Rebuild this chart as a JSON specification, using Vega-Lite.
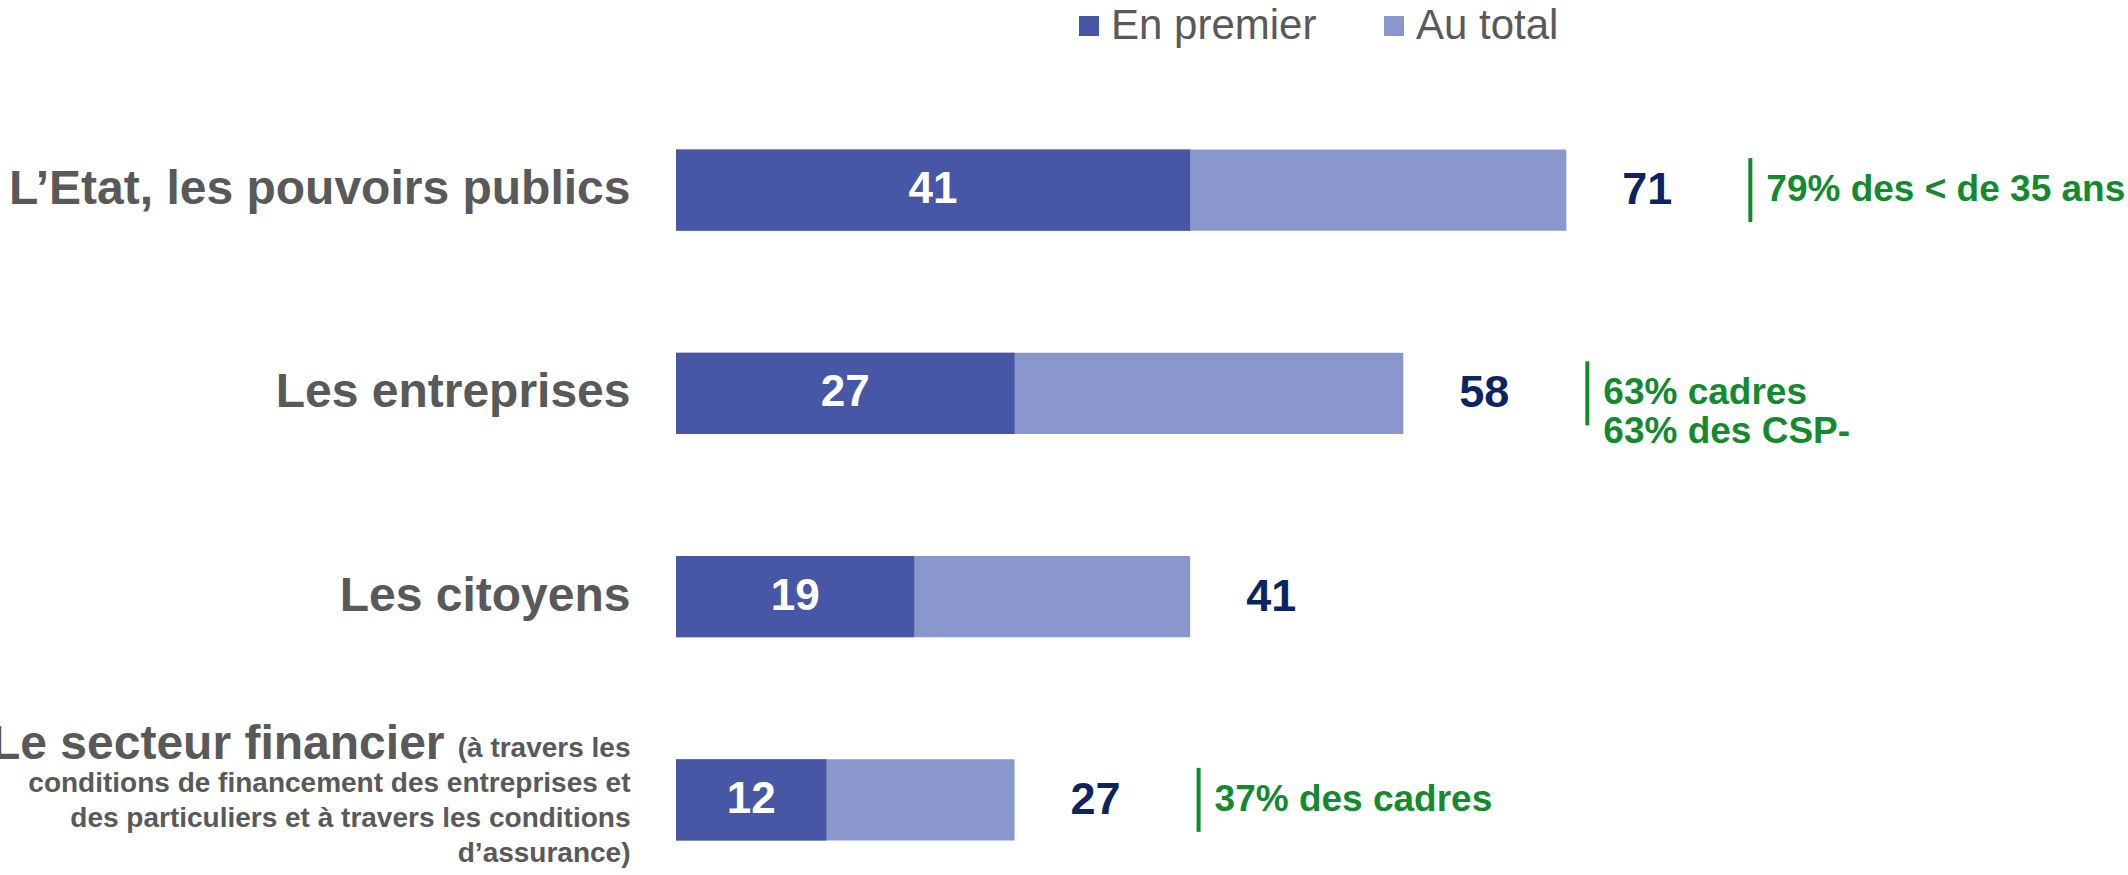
{
  "$schema": "https://vega.github.io/schema/vega-lite/v6.json",
  "autosize": "none",
  "width": 1254,
  "height": 752,
  "padding": {"left": 676, "top": 119, "right": 198, "bottom": 4},
  "config": {"view": {"stroke": null}, "font": "Liberation Sans"},
  "data": {"values": [
    {"cat": "L’Etat, les pouvoirs publics", "premier": 41, "total": 71, "note": "79% des < de 35 ans"},
    {"cat": "Les entreprises", "premier": 27, "total": 58, "note": "63% cadres\n63% des CSP-"},
    {"cat": "Les citoyens", "premier": 19, "total": 41, "note": ""},
    {"cat": "Le secteur financier", "premier": 12, "total": 27, "note": "37% des cadres"}
  ]},
  "encoding": {
    "y": {"field": "cat", "type": "nominal", "sort": null, "scale": {"paddingInner": 0.6, "paddingOuter": 0.15}, "axis": null}
  },
  "layer": [
    {
      "mark": {"type": "bar"},
      "encoding": {
        "y": {"field": "cat", "type": "nominal", "sort": null, "scale": {"paddingInner": 0.6, "paddingOuter": 0.15},
          "axis": {"orient": "left", "title": null, "domain": false, "ticks": false, "grid": false,
            "labelFont": "Liberation Sans", "labelFontWeight": "bold", "labelFontSize": 48, "labelColor": "#595959",
            "labelLimit": 1000, "labelPadding": 46,
            "labelExpr": "datum.value == 'Le secteur financier' ? '' : datum.value"}},
        "x": {"field": "total", "type": "quantitative", "scale": {"domain": [0, 100], "nice": false}, "axis": null},
        "color": {"datum": "Au total", "type": "nominal",
          "scale": {"domain": ["En premier", "Au total"], "range": ["#4856A6", "#8A97CD"]},
          "legend": {"orient": "none", "legendX": 392, "legendY": -114, "direction": "horizontal", "title": null,
            "symbolType": "square", "symbolSize": 400, "symbolStrokeWidth": 0, "labelFontSize": 42, "labelColor": "#595959",
            "labelFont": "Liberation Sans", "labelLimit": 1000, "columnPadding": 56, "labelOffset": 1}}
      }
    },
    {
      "mark": {"type": "bar"},
      "encoding": {
        "y": {"field": "cat", "type": "nominal", "sort": null, "scale": {"paddingInner": 0.6, "paddingOuter": 0.15},
          "axis": {"orient": "left", "title": null, "domain": false, "ticks": false, "grid": false,
            "labelFont": "Liberation Sans", "labelFontWeight": "bold", "labelFontSize": 48, "labelColor": "#595959",
            "labelLimit": 1000, "labelPadding": 232, "labelOffset": -55,
            "labelExpr": "datum.value == 'Le secteur financier' ? datum.value : ''"}},
        "x": {"field": "premier", "type": "quantitative"},
        "color": {"datum": "En premier", "type": "nominal"}
      }
    },
    {
      "mark": {"type": "text", "color": "white", "fontSize": 44, "fontWeight": "bold", "align": "center", "baseline": "middle"},
      "encoding": {
        "y": {"field": "cat", "type": "nominal", "sort": null, "scale": {"paddingInner": 0.6, "paddingOuter": 0.15},
          "axis": {"orient": "left", "title": null, "domain": false, "ticks": false, "grid": false,
            "labelFont": "Liberation Sans", "labelFontWeight": "bold", "labelFontSize": 28, "labelColor": "#595959",
            "labelLimit": 1000, "labelPadding": 46, "labelLineHeight": 35, "labelBaseline": "middle", "labelOffset": -51,
            "labelExpr": "datum.value == 'Le secteur financier' ? ['(à travers les', 'conditions de financement des entreprises et', 'des particuliers et à travers les conditions', 'd’assurance)'] : ''"}},
        "x": {"field": "premier", "type": "quantitative", "stack": "zero", "bandPosition": 0.5},
        "text": {"field": "premier", "type": "quantitative"}
      }
    },
    {
      "mark": {"type": "text", "color": "#0D2462", "fontSize": 45, "fontWeight": "bold", "align": "left", "baseline": "middle", "dx": 56},
      "encoding": {
        "x": {"field": "total", "type": "quantitative"},
        "text": {"field": "total", "type": "quantitative"}
      }
    },
    {
      "transform": [{"filter": "datum.note != ''"}],
      "mark": {"type": "tick", "color": "#138A2E", "thickness": 4, "size": 64, "xOffset": 184, "orient": "vertical", "opacity": 1},
      "encoding": {
        "x": {"field": "total", "type": "quantitative"}
      }
    },
    {
      "transform": [{"filter": "datum.note != ''"}],
      "mark": {"type": "text", "color": "#138A2E", "fontSize": 37, "fontWeight": "bold", "align": "left", "baseline": "middle", "dx": 200, "lineBreak": "\n", "lineHeight": 39},
      "encoding": {
        "x": {"field": "total", "type": "quantitative"},
        "text": {"field": "note", "type": "nominal"}
      }
    }
  ],
  "resolve": {"axis": {"y": "independent"}}
}
